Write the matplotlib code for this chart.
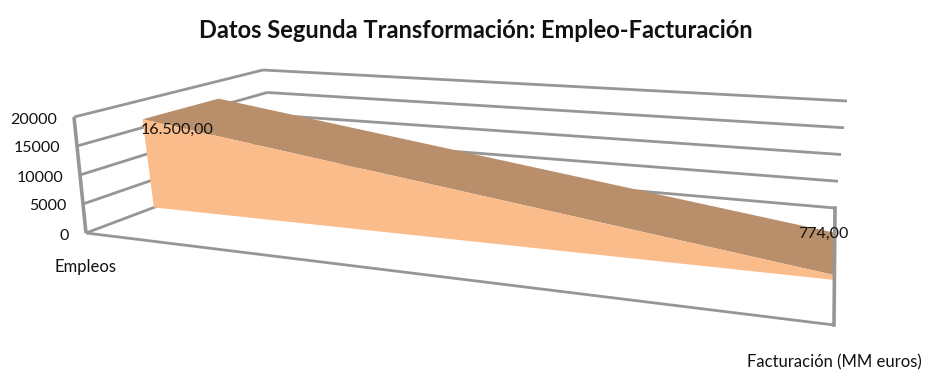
import matplotlib
matplotlib.use('Agg')
import matplotlib.pyplot as plt

plt.rcParams['font.family'] = ['Lato', 'DejaVu Sans']

title = 'Datos Segunda Transformación: Empleo-Facturación'
empleos = [16500, 774]
data_labels = ['16.500,00', '774,00']
ticks = [0, 5000, 10000, 15000, 20000]
y_name = 'Empleos'
x_name = 'Facturación (MM euros)'

GRID = '#969696'
FRONT = '#fbbc8c'
TOP = '#b98e6b'

# pixel position of the corners of the 3d box: (across, depth)
floor = {(0, 0): (86, 233), (1, 0): (834, 325), (0, 1): (280, 160), (1, 1): (835, 208)}
roof = {(0, 0): (74, 117), (1, 0): (820, 187), (0, 1): (263, 70), (1, 1): (847, 101)}
ymax = ticks[-1]
# depth of the area's two faces at its left and right ends
d_front = [0.35, 0.385]
d_back = [0.75, 0.75]


def bilinear(c, u, d):
    px = [(1 - u) * (1 - d), u * (1 - d), (1 - u) * d, u * d]
    keys = [(0, 0), (1, 0), (0, 1), (1, 1)]
    return (sum(w * c[k][0] for w, k in zip(px, keys)),
            sum(w * c[k][1] for w, k in zip(px, keys)))


def project(u, d, value):
    z = value / ymax
    fx, fy = bilinear(floor, u, d)
    rx, ry = bilinear(roof, u, d)
    return fx + (rx - fx) * z, fy + (ry - fy) * z


def line(ax, a, b, lw=2.0):
    ax.plot([a[0], b[0]], [a[1], b[1]], color=GRID, lw=lw, solid_capstyle='butt', zorder=1)


fig = plt.figure(figsize=(9.25, 3.71), dpi=100)
ax = fig.add_axes([0, 0, 1, 1])
ax.set_xlim(0, 925)
ax.set_ylim(371, 0)
ax.axis('off')

# walls and gridlines
for t in ticks:
    line(ax, project(0, 0, t), project(0, 1, t))
    line(ax, project(0, 1, t), project(1, 1, t))
    x, y = project(0, 0, t)
    ax.text(x - 17, y + 2.5, str(t), ha='right', va='center', fontsize=11.5, color='#111111')
line(ax, project(0, 0, 0), project(0, 0, ymax), lw=2.6)
line(ax, project(0, 0, 0), project(1, 0, 0))

# area: top surface then front face
us = [i / (len(empleos) - 1) for i in range(len(empleos))]
front_top = [project(u, d, v) for u, d, v in zip(us, d_front, empleos)]
back_top = [project(u, d, v) for u, d, v in zip(us, d_back, empleos)]
front_floor = [project(u, d, 0) for u, d in zip(us, d_front)]
top_poly = front_top + back_top[::-1]
front_poly = front_top + front_floor[::-1]
ax.fill([p[0] for p in top_poly], [p[1] for p in top_poly], color=TOP, lw=0, zorder=2)
ax.fill([p[0] for p in front_poly], [p[1] for p in front_poly], color=FRONT, lw=0, zorder=3)

# right edge sits over the area
a, b = project(1, 1, 0), project(1, 0, 0)
ax.plot([a[0], b[0]], [a[1], b[1]], color=GRID, lw=2.6, zorder=4)

ax.text(177, 130, data_labels[0], ha='center', va='center', fontsize=11.5, color='#111111', zorder=5)
ax.text(823, 234, data_labels[1], ha='center', va='center', fontsize=11.5, color='#111111', zorder=5)
ax.text(86, 267, y_name, ha='center', va='center', fontsize=12, color='#111111')
ax.text(834, 362.5, x_name, ha='center', va='center', fontsize=12, color='#111111')
ax.text(476, 31, title, ha='center', va='center', fontsize=17, fontweight='bold', color='#111111')

fig.savefig('out.png', dpi=100, facecolor='white')
